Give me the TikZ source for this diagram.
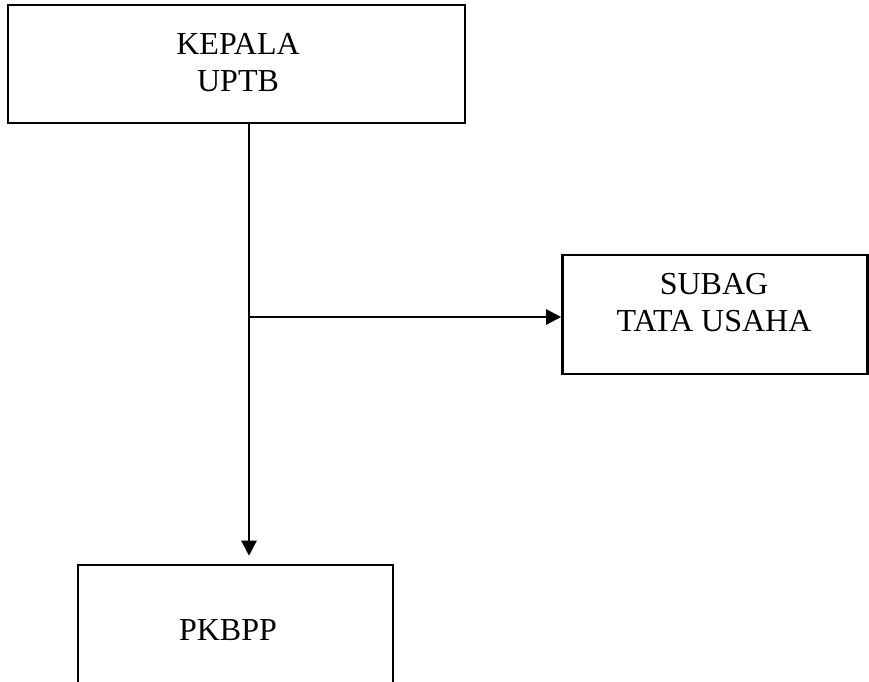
\documentclass[tikz,border=0pt]{standalone}
\usepackage{fontspec}
\setmainfont{Liberation Serif}
\usetikzlibrary{arrows.meta}
\begin{document}
\begin{tikzpicture}[x=1pt,y=1pt,
  box/.style={draw=black, line width=2.6pt, inner sep=0pt},
  lbl/.style={inner sep=0pt, align=center, font=\fontsize{32}{36.5}\selectfont},
  conn/.style={line width=2.4pt, -{Triangle[length=15pt,width=15pt]}}]
\useasboundingbox (0,0) rectangle (869,-681);
\clip (0,0) rectangle (869,-681);
% boxes
\node[box, minimum width=457pt, minimum height=118pt] (kepala) at (236.5,-64) {};
\node[box, minimum width=305pt, minimum height=119pt] (subag) at (715,-314.5) {};
\node[box, minimum width=315pt, minimum height=160pt] (pkbpp) at (235.5,-645) {};
% labels
\node[lbl] (kepalaT) at (238,-62.5) {KEPALA\\UPTB};
\node[lbl] (subagT) at (714,-302.5) {SUBAG\\TATA USAHA};
\node[lbl] (pkbppT) at (228,-630) {PKBPP};
% connectors
\coordinate (trunk) at (249,-317);
\draw[conn, shorten >=8pt] (kepala.south -| trunk) -- (pkbpp.north -| trunk);
\draw[conn] (trunk) -- (trunk -| subag.west);
\end{tikzpicture}
\end{document}
